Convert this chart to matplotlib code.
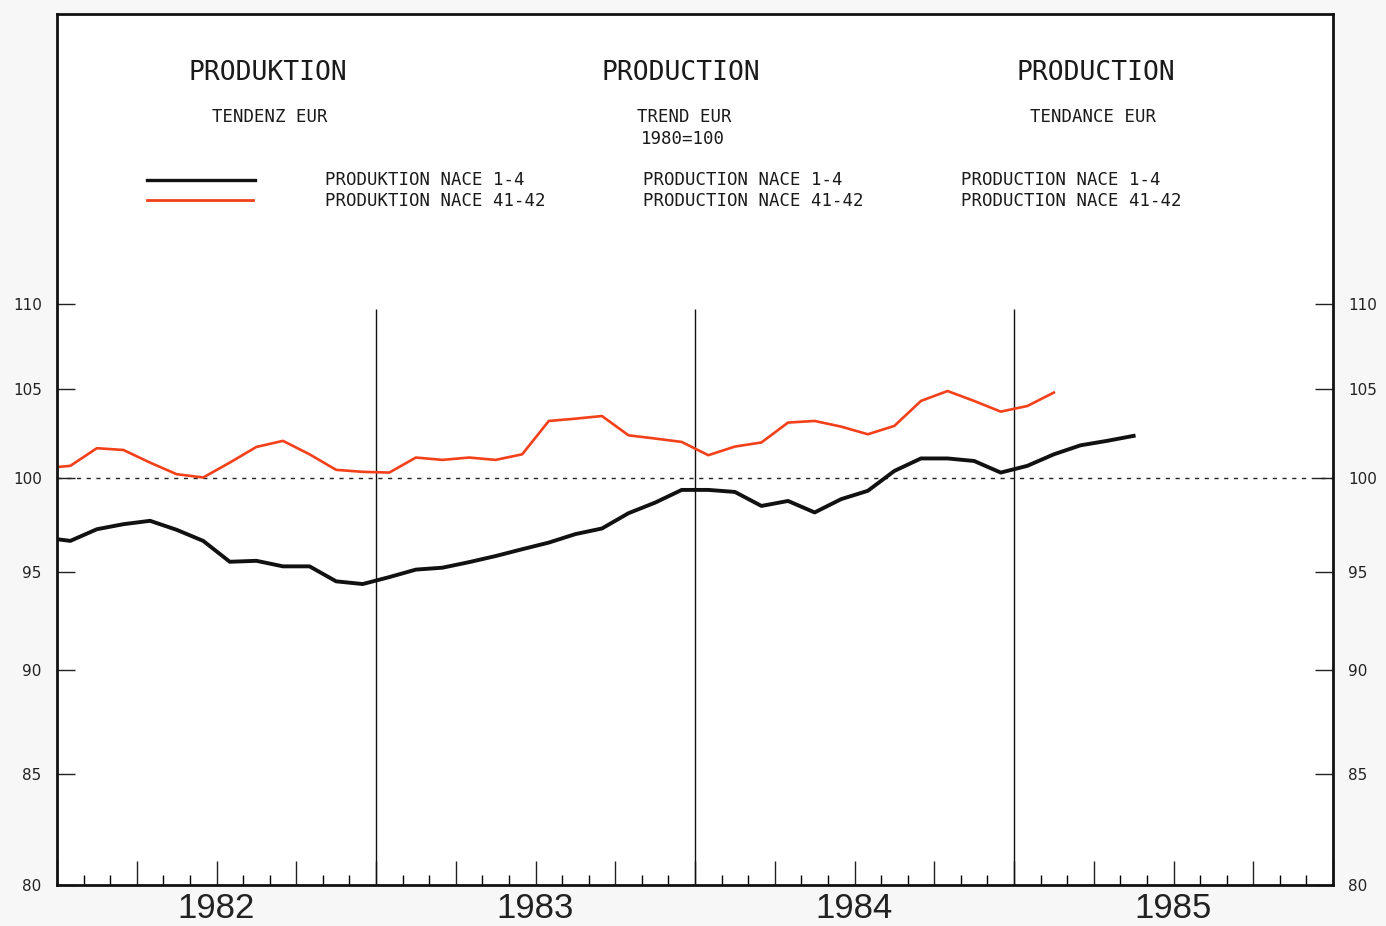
import numpy as np
import pandas as pd
import matplotlib
matplotlib.use('Agg')
import matplotlib.pyplot as plt
from matplotlib.ticker import NullLocator, FixedLocator
from matplotlib.lines import Line2D

# monthly trend values, Dec 1981 .. May 1985 (1980=100)
nace_1_4 = [96.8,
            96.62, 97.24, 97.51, 97.69, 97.21, 96.62, 95.52, 95.57, 95.28, 95.28, 94.50, 94.36,
            94.72, 95.11, 95.21, 95.50, 95.82, 96.18, 96.53, 96.98, 97.28, 98.10, 98.67, 99.36,
            99.36, 99.25, 98.49, 98.76, 98.14, 98.86, 99.31, 100.40, 101.09, 101.09, 100.95, 100.31,
            100.68, 101.32, 101.82, 102.07, 102.35]
# Dec 1981 .. Feb 1985
nace_41_42 = [100.55,
              100.68, 101.66, 101.56, 100.86, 100.22, 100.04, 100.86, 101.73, 102.07, 101.32, 100.46, 100.35,
              100.31, 101.14, 101.01, 101.14, 101.01, 101.32, 103.19, 103.32, 103.47, 102.38, 102.20, 102.01,
              101.27, 101.75, 101.98, 103.10, 103.19, 102.87, 102.44, 102.91, 104.33, 104.90, 104.33, 103.72,
              104.04, 104.81]
years = [1982, 1983, 1984, 1985]
ytick_vals = [80, 85, 90, 95, 100, 105, 110]

months = pd.period_range('1981-12', periods=len(nace_1_4), freq='M')
x_all = months.year + (months.month - 0.5) / 12.0
x_black = np.array(x_all)
x_red = np.array(x_all[:len(nace_41_42)])

W, H = 1386, 926
fig = plt.figure(figsize=(W / 100, H / 100), dpi=100)
fig.patch.set_facecolor('#f7f7f7')
ax = fig.add_axes([57 / W, 1 - 885 / H, (1333 - 57) / W, (885 - 14) / H])
ax.set_facecolor('white')

ax.set_yscale('log')
ax.set_ylim(80, 129)
ax.set_xlim(1982, 1986)

ax.axhline(100, color='#222222', lw=1.0, dashes=(3, 4))
ax.vlines([1983, 1984, 1985], 80, 109.7, color='#111111', lw=1.0)

ax.plot(x_black, nace_1_4, color='#111111', lw=2.8, solid_joinstyle='round')
ax.plot(x_red, nace_41_42, color='#f2401a', lw=1.9, solid_joinstyle='round')

for s in ax.spines.values():
    s.set_linewidth(2.0)
    s.set_color('#111111')

# y axis ticks both sides
ax.yaxis.set_minor_locator(NullLocator())
ax.yaxis.set_major_locator(FixedLocator(ytick_vals))
ax.set_yticklabels([str(v) for v in ytick_vals])
ax.tick_params(axis='y', which='major', direction='in', length=13, width=1.0,
               left=True, right=True, labelleft=True, labelright=True,
               labelsize=11, colors='#222222')
ax.tick_params(axis='y', which='major', pad=11)
for lab in ax.get_yticklabels(which='major'):
    lab.set_fontfamily('DejaVu Sans')

# x axis: quarterly major ticks, monthly minor ticks, year labels at mid-year
quarters = np.arange(1982, 1986.01, 0.25)
qlabels = []
for q in quarters:
    if abs(q - np.floor(q) - 0.5) < 1e-6 and int(np.floor(q)) in years:
        qlabels.append(str(int(np.floor(q))))
    else:
        qlabels.append('')
ax.xaxis.set_major_locator(FixedLocator(quarters))
ax.set_xticklabels(qlabels)
ax.xaxis.set_minor_locator(FixedLocator(np.arange(1982, 1986.01, 1 / 12)))
ax.tick_params(axis='x', which='major', direction='in', length=17, width=1.0, pad=5,
               labelsize=25, colors='#222222')
ax.tick_params(axis='x', which='minor', direction='in', length=7, width=1.0)
for lab in ax.get_xticklabels():
    lab.set_fontfamily('Liberation Sans')

# header texts
mono = 'DejaVu Sans Mono'
tc = '#1a1a1a'


def ftext(x, y, s, size, ha='left'):
    fig.text(x / W, 1 - y / H, s, fontsize=size, family=mono, color=tc, ha=ha, va='center')


ftext(268, 73, 'PRODUKTION', 19, ha='center')
ftext(681, 73, 'PRODUCTION', 19, ha='center')
ftext(1096, 73, 'PRODUCTION', 19, ha='center')

ftext(212, 117, 'TENDENZ EUR', 12.5)
ftext(637, 117, 'TREND EUR', 12.5)
ftext(641, 139, '1980=100', 12.5)
ftext(1030, 117, 'TENDANCE EUR', 12.5)

ftext(325, 180, 'PRODUKTION NACE 1-4', 12.5)
ftext(325, 201, 'PRODUKTION NACE 41-42', 12.5)
ftext(643, 180, 'PRODUCTION NACE 1-4', 12.5)
ftext(643, 201, 'PRODUCTION NACE 41-42', 12.5)
ftext(961, 180, 'PRODUCTION NACE 1-4', 12.5)
ftext(961, 201, 'PRODUCTION NACE 41-42', 12.5)

fig.add_artist(Line2D([147 / W, 255 / W], [1 - 180 / H, 1 - 180 / H], color='#111111', lw=2.4))
fig.add_artist(Line2D([147 / W, 253 / W], [1 - 200 / H, 1 - 200 / H], color='#f2401a', lw=2.0))

fig.savefig('out.png', dpi=100, facecolor=fig.get_facecolor())
